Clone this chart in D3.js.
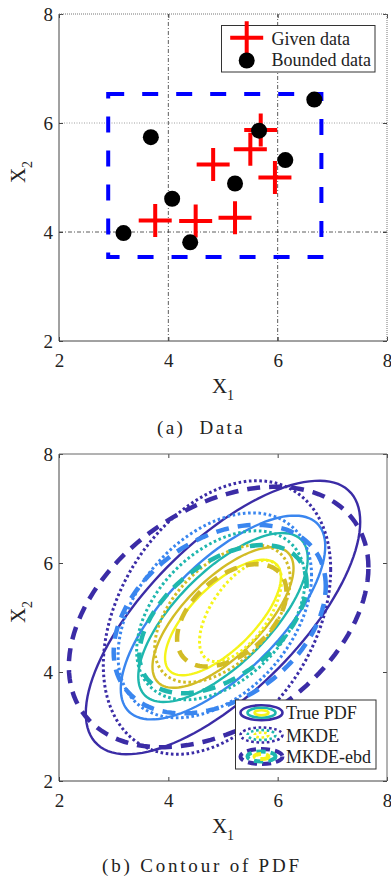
<!DOCTYPE html>
<html>
<head>
<meta charset="utf-8">
<script src="https://cdn.jsdelivr.net/npm/d3@7"></script>
<style>
  body { margin: 0; background: #fff; }
  svg { display: block; }
  text { font-family: "Liberation Serif", "Times New Roman", serif; fill: #222; }
</style>
</head>
<body>
<div id="chart"></div>
<script>
// ---- data ----
const ticks = [2, 4, 6, 8];
const givenX1 = [3.76, 4.50, 5.22, 4.82, 5.50, 5.69, 5.95];
const givenX2 = [4.21, 4.20, 4.26, 5.24, 5.52, 5.87, 5.00];
const boundX1 = [3.18, 3.68, 4.07, 4.40, 5.22, 5.66, 6.14, 6.67];
const boundX2 = [3.98, 5.74, 4.61, 3.81, 4.89, 5.86, 5.32, 6.43];
const boundBox = [2.90, 3.54, 6.80, 6.53]; // x1 min, x2 min, x1 max, x2 max
const levelColors = ["#3b2ca6", "#3a86ef", "#1fb7ae", "#d2bc26", "#f5f41b"];
// contour lines: [centre x1, centre x2, half width x1, half height x2, tilt]
const truePdf = [
  [5.00, 5.00, 2.51, 2.51, 0.70],
  [5.00, 5.00, 1.87, 1.87, 0.70],
  [5.00, 5.00, 1.55, 1.55, 0.70],
  [5.00, 5.00, 1.29, 1.29, 0.70],
  [5.00, 5.00, 1.06, 1.06, 0.70]
];
const mkde = [
  [4.89, 5.00, 2.08, 2.51, 0.35],
  [4.85, 5.04, 1.77, 1.88, 0.39],
  [4.96, 5.04, 1.54, 1.55, 0.42],
  [4.99, 5.07, 1.24, 1.26, 0.50],
  [5.32, 5.12, 0.75, 0.93, 0.60]
];
const mkdeEbd = [
  [4.92, 5.01, 2.74, 2.39, 0.38],
  [4.94, 4.97, 1.94, 1.73, 0.35],
  [5.00, 4.97, 1.53, 1.36, 0.48],
  [5.16, 5.04, 1.00, 0.94, 0.46]
];
const legendA = ["Given data", "Bounded data"];
const legendB = ["True PDF", "MKDE", "MKDE-ebd"];

const width = 391, height = 877;
const left = 59, right = 387, panelTop = 14, panelBottom = 341, shift = 440;

const svg = d3.select("#chart").append("svg")
  .attr("width", width).attr("height", height);

const x = d3.scaleLinear().domain([2, 8]).range([left, right]);

function panel(offset, grid) {
  const y = d3.scaleLinear().domain([2, 8]).range([panelBottom + offset, panelTop + offset]);
  const g = svg.append("g");

  if (grid) {
    [4, 6].forEach(v => {
      g.append("line").attr("x1", x(v)).attr("x2", x(v))
        .attr("y1", y(2)).attr("y2", y(8))
        .attr("stroke", "#333").attr("stroke-width", 0.8).attr("stroke-dasharray", "4,2,1,2");
    });
    g.append("line").attr("x1", x(2)).attr("x2", x(8)).attr("y1", y(4)).attr("y2", y(4))
      .attr("stroke", "#333").attr("stroke-width", 0.8).attr("stroke-dasharray", "4,2,1,2");
    g.append("line").attr("x1", x(2)).attr("x2", x(8)).attr("y1", y(6)).attr("y2", y(6))
      .attr("stroke", "#888").attr("stroke-width", 0.8).attr("stroke-dasharray", "1,1.5");
  }

  // bottom/left axes with labels, inward ticks
  const fmt = d3.format("d");
  const xAxis = d3.axisBottom(x).tickValues(ticks).tickSize(-4).tickPadding(13).tickFormat(fmt);
  const yAxis = d3.axisLeft(y).tickValues(ticks).tickSize(-4).tickPadding(6).tickFormat(fmt);
  const gx = g.append("g").attr("transform", `translate(0,${y(2)})`).call(xAxis);
  const gy = g.append("g").attr("transform", `translate(${x(2)},0)`).call(yAxis);
  g.append("g").attr("transform", `translate(0,${y(8)})`)
    .call(d3.axisTop(x).tickValues(ticks).tickSize(-4).tickFormat(""));
  g.append("g").attr("transform", `translate(${x(8)},0)`)
    .call(d3.axisRight(y).tickValues(ticks).tickSize(-4).tickFormat(""));
  g.selectAll(".domain").remove();
  g.selectAll(".tick line").attr("stroke", "#444");
  [gx, gy].forEach(a => a.selectAll("text")
    .style("font-family", "'Liberation Serif', serif").style("font-size", "19px").attr("fill", "#222"));

  // frame
  g.append("line").attr("x1", x(2)).attr("x2", x(2)).attr("y1", y(2)).attr("y2", y(8))
    .attr("stroke", "#444").attr("stroke-width", 1);
  g.append("line").attr("x1", x(2)).attr("x2", x(8)).attr("y1", y(2)).attr("y2", y(2))
    .attr("stroke", "#444").attr("stroke-width", 1);
  g.append("line").attr("x1", x(2)).attr("x2", x(8)).attr("y1", y(8)).attr("y2", y(8))
    .attr("stroke", grid ? "#777" : "#666").attr("stroke-width", 1)
    .attr("stroke-dasharray", grid ? "1,1" : null);
  g.append("line").attr("x1", x(8)).attr("x2", x(8)).attr("y1", y(2)).attr("y2", y(8))
    .attr("stroke", grid ? "#777" : "#666").attr("stroke-width", 1)
    .attr("stroke-dasharray", grid ? "1,1" : null);

  // axis titles
  const xl = g.append("text").attr("x", 223).attr("y", 393 + offset)
    .attr("text-anchor", "middle").style("font-size", "21px");
  xl.append("tspan").text("X");
  xl.append("tspan").attr("dy", 7).style("font-size", "14px").text("1");
  const yl = g.append("text")
    .attr("transform", `translate(25,${172 + offset}) rotate(-90)`)
    .attr("text-anchor", "middle").style("font-size", "21px");
  yl.append("tspan").text("X");
  yl.append("tspan").attr("dy", 7).style("font-size", "14px").text("2");

  return { g, y };
}

// ---------- (a) Data ----------
const pa = panel(0, true);
const ya = pa.y;

pa.g.append("rect")
  .attr("x", x(boundBox[0])).attr("y", ya(boundBox[3]))
  .attr("width", x(boundBox[2]) - x(boundBox[0]))
  .attr("height", ya(boundBox[1]) - ya(boundBox[3]))
  .attr("fill", "none").attr("stroke", "#0000ff").attr("stroke-width", 4)
  .attr("stroke-dasharray", "16,18");

const arm = 16.5;
pa.g.append("g").selectAll("path")
  .data(givenX1.map((v, i) => [v, givenX2[i]]))
  .join("path")
  .attr("d", d => `M${x(d[0]) - arm},${ya(d[1])}H${x(d[0]) + arm}M${x(d[0])},${ya(d[1]) - arm}V${ya(d[1]) + arm}`)
  .attr("stroke", "#ff0000").attr("stroke-width", 4).attr("fill", "none");

pa.g.append("g").selectAll("circle")
  .data(boundX1.map((v, i) => [v, boundX2[i]]))
  .join("circle")
  .attr("cx", d => x(d[0])).attr("cy", d => ya(d[1])).attr("r", 8)
  .attr("fill", "#000");

// legend (a)
const la = pa.g.append("g");
la.append("rect").attr("x", 221.5).attr("y", 25.5).attr("width", 153.5).attr("height", 46.5)
  .attr("fill", "#fff").attr("stroke", "#333").attr("stroke-width", 1);
la.append("path")
  .attr("d", `M${246.7 - arm},37.7H${246.7 + arm}M246.7,${37.7 - arm}V${37.7 + arm}`)
  .attr("stroke", "#ff0000").attr("stroke-width", 4);
la.append("circle").attr("cx", 246.7).attr("cy", 60.5).attr("r", 8).attr("fill", "#000");
legendA.forEach((t, i) => {
  la.append("text").attr("x", 271.5).attr("y", 45 + i * 21).style("font-size", "18px").text(t);
});

svg.append("text").attr("x", 201).attr("y", 434).attr("text-anchor", "middle")
  .style("font-size", "19px").style("letter-spacing", "2.4px")
  .attr("xml:space", "preserve").text("(a)  Data");

// ---------- (b) Contour of PDF ----------
const pb = panel(shift, false);
const yb = pb.y;

function ellipsePts(e) {
  const [cx, cy, hx, hy, r] = e;
  const s = Math.sqrt(1 - r * r);
  return d3.range(0, 361, 3).map(a => {
    const t = a * Math.PI / 180;
    return [cx + hx * Math.cos(t), cy + hy * (r * Math.cos(t) + s * Math.sin(t))];
  });
}
const line = d3.line().x(d => x(d[0])).y(d => yb(d[1])).curve(d3.curveLinearClosed);

const styles = [
  { data: truePdf, w: 2.4, dash: null },
  { data: mkde, w: 3, dash: "2.6,2.6" },
  { data: mkdeEbd, w: 4.5, dash: "13,9" }
];
svg.append("clipPath").attr("id", "clipb").append("rect")
  .attr("x", x(2)).attr("y", yb(8)).attr("width", x(8) - x(2)).attr("height", yb(2) - yb(8));
styles.forEach(st => {
  pb.g.append("g").attr("clip-path", "url(#clipb)").selectAll("path")
    .data(st.data)
    .join("path")
    .attr("d", d => line(ellipsePts(d)))
    .attr("fill", "none")
    .attr("stroke", (d, i) => levelColors[i])
    .attr("stroke-width", st.w)
    .attr("stroke-dasharray", st.dash);
});

// legend (b)
const lb = pb.g.append("g");
lb.append("rect").attr("x", 235.5).attr("y", 700).attr("width", 140.5).attr("height", 69)
  .attr("fill", "#fff").attr("stroke", "#333").attr("stroke-width", 1);
const iconY = [712.7, 735, 756.5];
const iconColors = [levelColors[0], levelColors[2], levelColors[4]];
styles.forEach((st, k) => {
  [[21, 7.5], [14, 5], [7, 2.5]].forEach((r, j) => {
    lb.append("ellipse").attr("cx", 261.5).attr("cy", iconY[k])
      .attr("rx", r[0]).attr("ry", r[1])
      .attr("fill", "none").attr("stroke", iconColors[j])
      .attr("stroke-width", k === 2 ? 4 : 2.6)
      .attr("stroke-dasharray", k === 2 ? "9,5" : st.dash);
  });
});
legendB.forEach((t, i) => {
  lb.append("text").attr("x", 286).attr("y", [718.5, 742, 762.7][i]).style("font-size", "18px").text(t);
});

svg.append("text").attr("x", 202).attr("y", 872).attr("text-anchor", "middle")
  .style("font-size", "19px").style("letter-spacing", "2.8px")
  .text("(b) Contour of PDF");
</script>
</body>
</html>
